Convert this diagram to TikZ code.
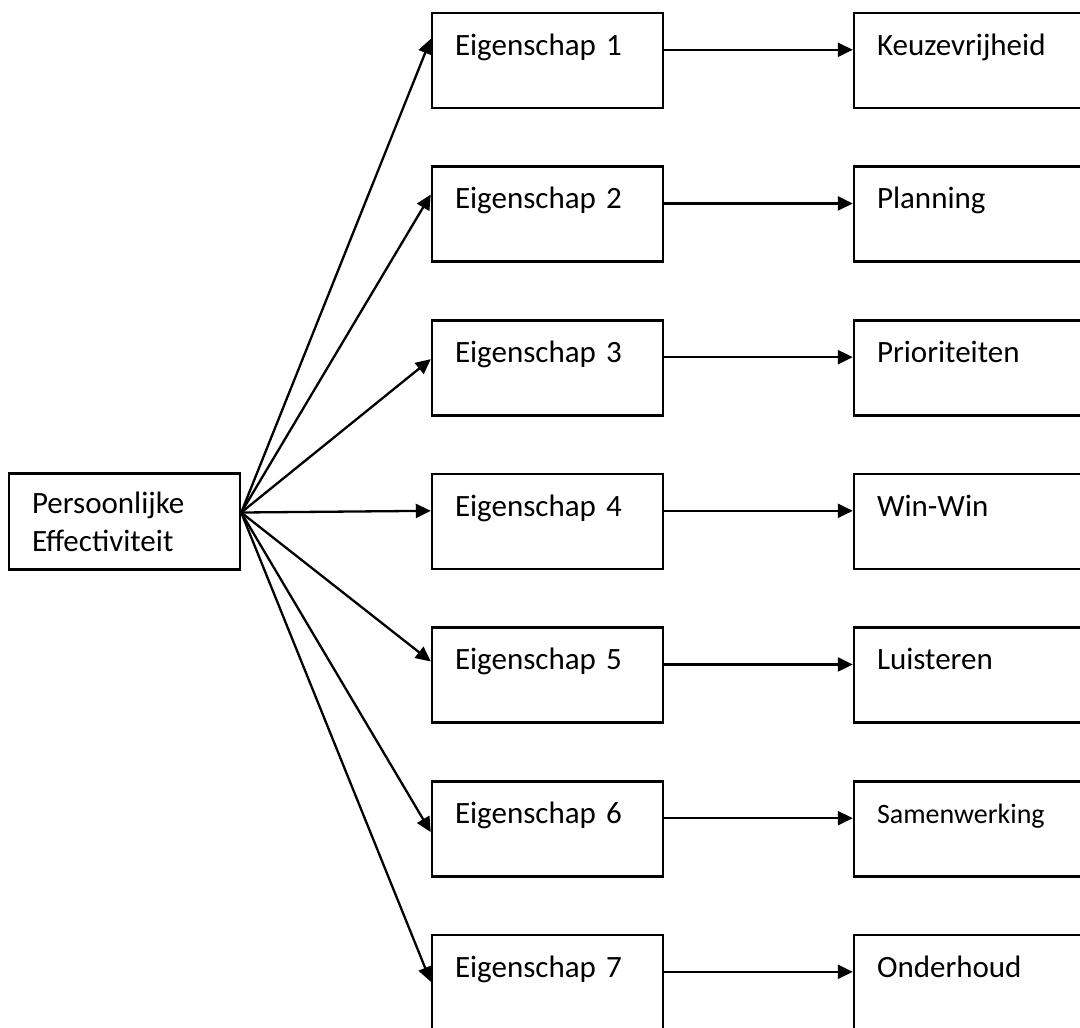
\documentclass[tikz,border=0pt]{standalone}
\usepackage{fontspec}
\setmainfont{Carlito}
\usetikzlibrary{arrows.meta}

\begin{document}
\begin{tikzpicture}[x=1pt, y=-1pt, node distance=153.67pt,
    box/.style={draw, line width=2.4pt, text width=185pt, align=left,
      inner xsep=23pt, inner ysep=0pt, text height=42pt, text depth=53pt,
      font=\fontsize{31}{38}\selectfont},
    wbox/.style={box, text width=200pt},
    pbox/.style={draw, line width=2.4pt, text width=185pt, align=left,
      inner xsep=23pt, inner ysep=2pt, minimum height=96pt,
      font=\fontsize{31}{38}\selectfont},
    conn/.style={line width=2.3pt, -{Triangle[length=15pt, width=14pt]}}]
  \clip (0,0) rectangle (1080,1028);
  % middle column
  \node[box] (E1) at (547.5,60.5) {Eigenschap 1};
  \node[box] (E2) [below of=E1] {Eigenschap 2};
  \node[box] (E3) [below of=E2] {Eigenschap 3};
  \node[box] (E4) [below of=E3] {Eigenschap 4};
  \node[box] (E5) [below of=E4] {Eigenschap 5};
  \node[box] (E6) [below of=E5] {Eigenschap 6};
  \node[box] (E7) [below of=E6] {Eigenschap 7};
  % right column
  \node[wbox] (R1) [node distance=429.5pt, right of=E1] {Keuzevrijheid};
  \node[wbox] (R2) [below of=R1] {Planning};
  \node[wbox] (R3) [below of=R2] {Prioriteiten};
  \node[wbox] (R4) [below of=R3] {Win-Win};
  \node[wbox] (R5) [below of=R4] {Luisteren};
  \node[wbox, font=\fontsize{28}{34}\selectfont] (R6) [below of=R5] {Samenwerking};
  \node[wbox] (R7) [below of=R6] {Onderhoud};
  % left
  \node[pbox] (P) [node distance=423pt, left of=E4] {Persoonlijke\\Effectiviteit};
  \coordinate (hub) at ([yshift=9pt]P.east);

  \draw[conn] (hub) to ([yshift=-27pt]E1.north west);
  \draw[conn] (hub) to ([yshift=-29pt]E2.north west);
  \draw[conn] (hub) to ([yshift=-40pt]E3.north west);
  \draw[conn] (hub) to ([yshift=-38pt]E4.north west);
  \draw[conn] (hub) to ([yshift=-35pt]E5.north west);
  \draw[conn] (hub) to ([yshift=-52pt]E6.north west);
  \draw[conn] (hub) to ([yshift=-48pt]E7.north west);

  \draw[conn] ([yshift=-38pt]E1.north east) to ([yshift=-38pt]R1.north west);
  \draw[conn] ([yshift=-38pt]E2.north east) to ([yshift=-38pt]R2.north west);
  \draw[conn] ([yshift=-38pt]E3.north east) to ([yshift=-38pt]R3.north west);
  \draw[conn] ([yshift=-38pt]E4.north east) to ([yshift=-38pt]R4.north west);
  \draw[conn] ([yshift=-38pt]E5.north east) to ([yshift=-38pt]R5.north west);
  \draw[conn] ([yshift=-38pt]E6.north east) to ([yshift=-38pt]R6.north west);
  \draw[conn] ([yshift=-38pt]E7.north east) to ([yshift=-38pt]R7.north west);
\end{tikzpicture}
\end{document}
